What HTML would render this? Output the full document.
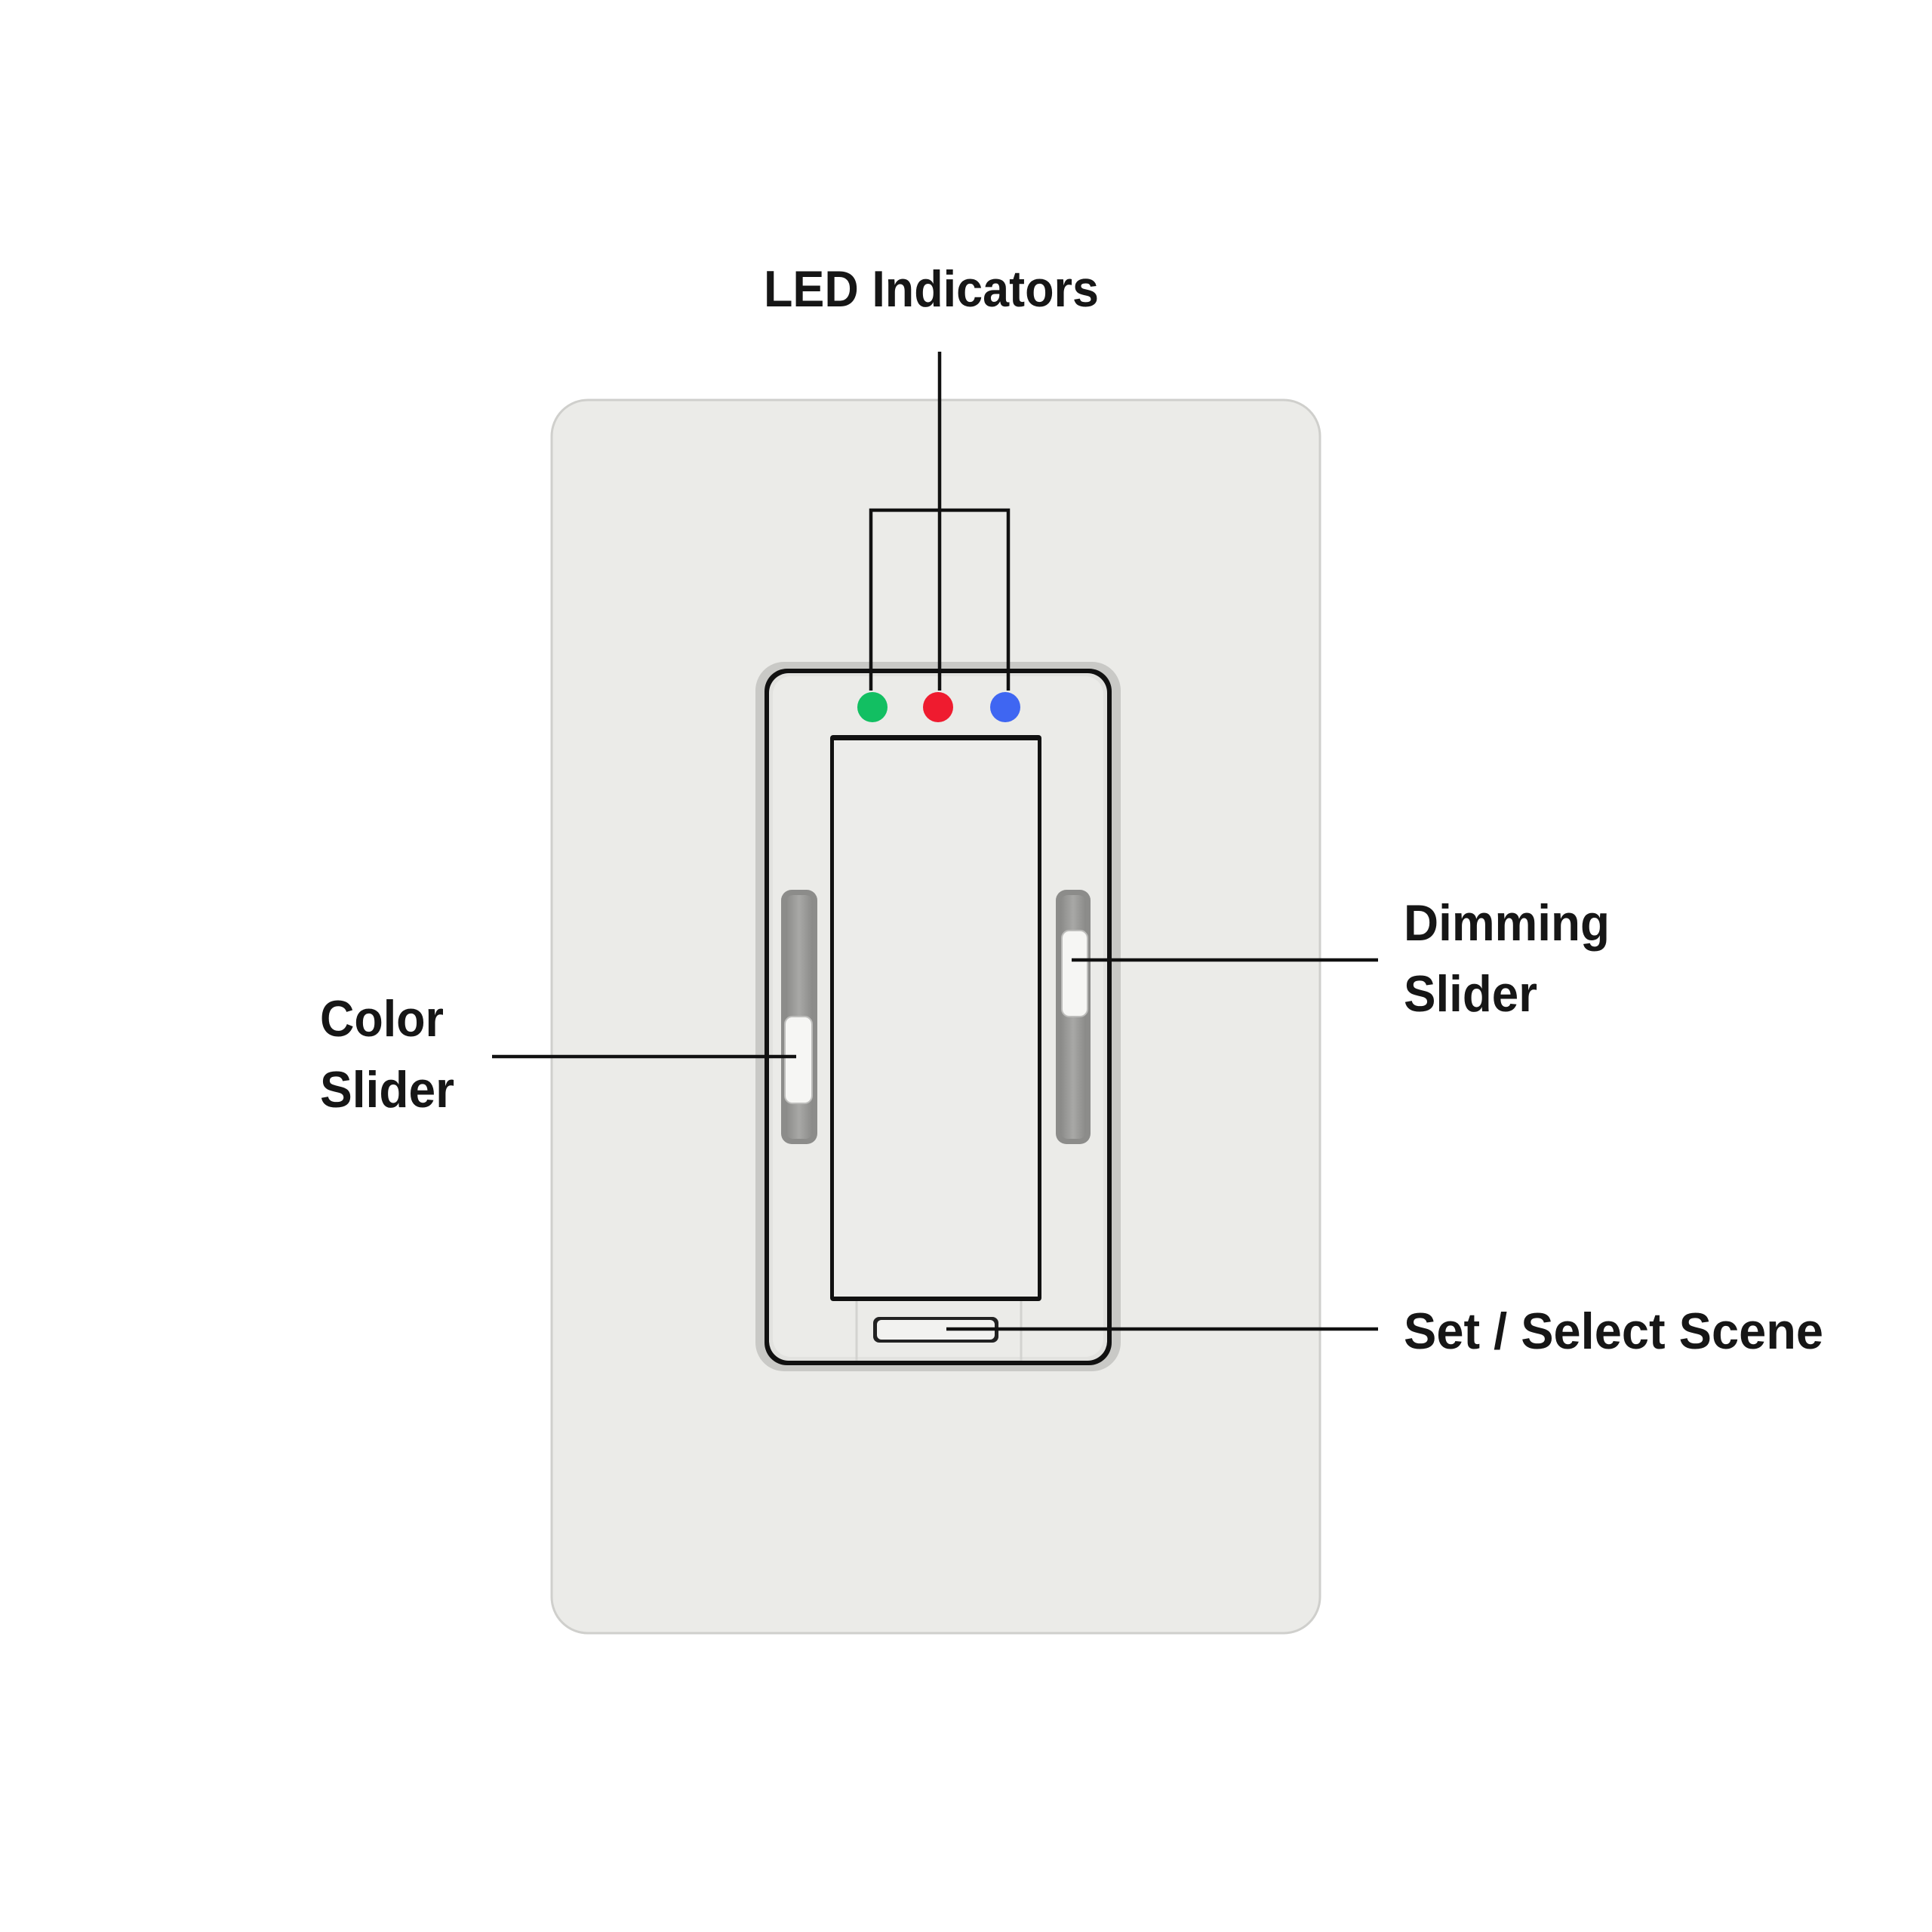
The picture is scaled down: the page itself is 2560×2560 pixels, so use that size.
<!DOCTYPE html>
<html><head><style>html,body{margin:0;padding:0;background:#fff}svg{display:block}</style></head>
<body>
<svg width="2560" height="2560" viewBox="0 0 2560 2560" xmlns="http://www.w3.org/2000/svg">
<defs>
<linearGradient id="trk" x1="0" x2="1"><stop offset="0" stop-color="#8a8a88"/><stop offset="0.5" stop-color="#a8a8a6"/><stop offset="1" stop-color="#8a8a88"/></linearGradient>
</defs>
<rect width="2560" height="2560" fill="#fff"/>
<rect x="731" y="530" width="1018" height="1634" rx="48" fill="#ebebe8" stroke="#cfcfcc" stroke-width="3"/>
<rect x="1001" y="877" width="484" height="940" rx="38" fill="#c9c9c6"/>
<rect x="1013" y="886" width="460" height="923" rx="30" fill="#111"/>
<rect x="1019" y="892" width="448" height="911" rx="26" fill="#e2e2df"/>
<rect x="1024" y="896" width="438" height="902" rx="24" fill="#ebebe8"/>
<line x1="1135" y1="1722" x2="1135" y2="1803" stroke="#d3d3d0" stroke-width="3"/>
<line x1="1353" y1="1722" x2="1353" y2="1803" stroke="#d3d3d0" stroke-width="3"/>
<rect x="1100" y="974" width="280" height="750" rx="4" fill="#111"/>
<rect x="1105" y="981" width="270" height="737" fill="#ececea"/>
<circle cx="1156" cy="937" r="20" fill="#12bf62"/>
<circle cx="1243" cy="937" r="20" fill="#ef1b2f"/>
<circle cx="1332" cy="937" r="20" fill="#3f66f2"/>
<rect x="1035" y="1179" width="48" height="337" rx="14" fill="#8c8c8a"/>
<rect x="1041" y="1186" width="36" height="323" rx="10" fill="url(#trk)"/>
<rect x="1040" y="1347" width="36" height="115" rx="10" fill="#f6f6f4" stroke="#bdbdbb" stroke-width="2"/>
<rect x="1399" y="1179" width="46" height="337" rx="14" fill="#8c8c8a"/>
<rect x="1405" y="1186" width="34" height="323" rx="10" fill="url(#trk)"/>
<rect x="1407" y="1233" width="34" height="114" rx="10" fill="#f6f6f4" stroke="#bdbdbb" stroke-width="2"/>
<rect x="1157" y="1745" width="166" height="34" rx="8" fill="#222"/>
<rect x="1162" y="1749" width="156" height="26" rx="6" fill="#f2f2f0"/>
<g stroke="#111" stroke-width="4.5" fill="none">
<line x1="1245" y1="466" x2="1245" y2="676"/>
<polyline points="1154,915 1154,676 1336,676 1336,915"/>
<line x1="1245" y1="676" x2="1245" y2="915"/>
<line x1="1420" y1="1272" x2="1826" y2="1272"/>
<line x1="652" y1="1400" x2="1055" y2="1400"/>
<line x1="1254" y1="1761" x2="1826" y2="1761"/>
</g>
<g font-family="Liberation Sans, Arial, sans-serif" font-weight="bold" font-size="68" fill="#161616">
<text x="1012" y="406" textLength="444" lengthAdjust="spacingAndGlyphs">LED Indicators</text>
<text x="1860" y="1246" textLength="273" lengthAdjust="spacingAndGlyphs">Dimming</text>
<text x="1860" y="1340" textLength="177" lengthAdjust="spacingAndGlyphs">Slider</text>
<text x="1860" y="1787" textLength="556" lengthAdjust="spacingAndGlyphs">Set / Select Scene</text>
<text x="424" y="1373" textLength="164" lengthAdjust="spacingAndGlyphs">Color</text>
<text x="424" y="1467" textLength="178" lengthAdjust="spacingAndGlyphs">Slider</text>
</g>
</svg>
</body></html>
